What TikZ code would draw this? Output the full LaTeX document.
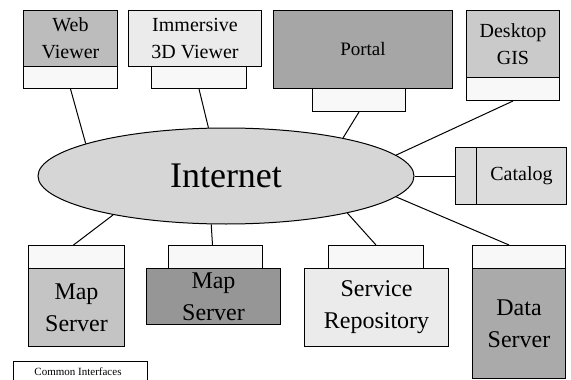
\documentclass[tikz,border=0pt]{standalone}
\usepackage{fontspec}
\setmainfont{Liberation Serif}
\usepackage{xcolor}
\usepackage{tikz}
\usetikzlibrary{shapes.geometric}

\definecolor{webgray}{HTML}{BCBCBC}
\definecolor{lightgray}{HTML}{EBEBEB}
\definecolor{portalgray}{HTML}{A6A6A6}
\definecolor{gisgray}{HTML}{CACACA}
\definecolor{catgray}{HTML}{DCDCDC}
\definecolor{mapgray}{HTML}{C4C4C4}
\definecolor{darkgray}{HTML}{969696}
\definecolor{datagray}{HTML}{AAAAAA}
\definecolor{netgray}{HTML}{D6D6D6}
\definecolor{tabwhite}{HTML}{F8F8F8}

\begin{document}
\begin{tikzpicture}[x=1pt, y=-1pt,
    box/.style={draw, line width=1pt, inner sep=0pt, anchor=north west, align=center},
    tab/.style={box, fill=tabwhite},
    toplabel/.style={font=\fontsize{20}{27}\selectfont},
    botlabel/.style={font=\fontsize{24}{32}\selectfont},
    link/.style={line width=1pt}]
    % Page
    \useasboundingbox (0,0) rectangle (571,380);
    \clip (0,0) rectangle (571,380);
    \fill[white] (0,0) rectangle (571,380);

    % Draw Internet
    \node[ellipse, draw, line width=1pt, fill=netgray, minimum width=376pt, minimum height=96pt,
          inner sep=0pt, font=\fontsize{36}{40}\selectfont] (inet) at (226,176) {Internet};

    % Draw clients at the top
    \node[box, toplabel, fill=webgray, minimum width=94pt, minimum height=56pt] (webtop) at (23,10) {Web\\Viewer};
    \node[tab, minimum width=94pt, minimum height=22pt] (webtab) at (23,66) {};
    \node[box, toplabel, fill=lightgray, minimum width=133pt, minimum height=56pt] (immtop) at (128,10) {Immersive\\3D Viewer};
    \node[tab, minimum width=95pt, minimum height=22pt] (immtab) at (151,66) {};
    \node[box, font=\fontsize{19}{24}\selectfont, fill=portalgray, minimum width=179pt, minimum height=78pt] (portal) at (273,10) {Portal};
    \node[tab, minimum width=93pt, minimum height=23pt] (portaltab) at (312,88) {};
    \node[box, toplabel, fill=gisgray, minimum width=93pt, minimum height=67pt] (gistop) at (466,10) {Desktop\\GIS};
    \node[tab, minimum width=93pt, minimum height=23pt] (gistab) at (466,77) {};

    % Draw catalog
    \node[box, fill=catgray, minimum width=21pt, minimum height=57pt] (cattab) at (455,147) {};
    \node[box, toplabel, fill=catgray, minimum width=90pt, minimum height=57pt] (catalog) at (476,147) {Catalog};

    % Draw servers at the bottom
    \node[tab, minimum width=96pt, minimum height=23pt] (ms1tab) at (28,245) {};
    \node[box, botlabel, fill=mapgray, minimum width=96pt, minimum height=78pt] (ms1) at (28,268) {Map\\Server};
    \node[tab, minimum width=94pt, minimum height=23pt] (ms2tab) at (168,245) {};
    \node[box, botlabel, fill=darkgray, minimum width=134pt, minimum height=56pt] (ms2) at (146,268) {Map\\Server};
    \node[tab, minimum width=95pt, minimum height=23pt] (srtab) at (328,245) {};
    \node[box, botlabel, fill=lightgray, minimum width=144pt, minimum height=78pt] (repo) at (304,268) {Service\\Repository};
    \node[tab, minimum width=93pt, minimum height=23pt] (dstab) at (472,245) {};
    \node[box, botlabel, fill=datagray, minimum width=93pt, minimum height=110pt] (data) at (472,268) {Data\\Server};

    % Legend
    \node[box, minimum width=134pt, minimum height=30pt] (legend) at (13,361) {};
    \node[anchor=base, font=\fontsize{11}{13}\selectfont] (legendtext) at (78,375) {Common Interfaces};

    % Links to the Internet
    \draw[link] (webtab.south) -- (inet.167);
    \draw[link] (immtab.south) -- (inet.110);
    \draw[link] (portaltab.south) -- (inet.18);
    \draw[link] (gistab.south) -- (inet.7);
    \draw[link] (inet.east) -- (inet.east -| cattab.west);
    \draw[link] (inet.-7) -- ([xshift=-10pt]dstab.north);
    \draw[link] (inet.-17) -- (srtab.north);
    \draw[link] (inet.-107) -- ([xshift=-3pt]ms2tab.north);
    \draw[link] (inet.-161) -- ([xshift=-3pt]ms1tab.north);
\end{tikzpicture}
\end{document}
